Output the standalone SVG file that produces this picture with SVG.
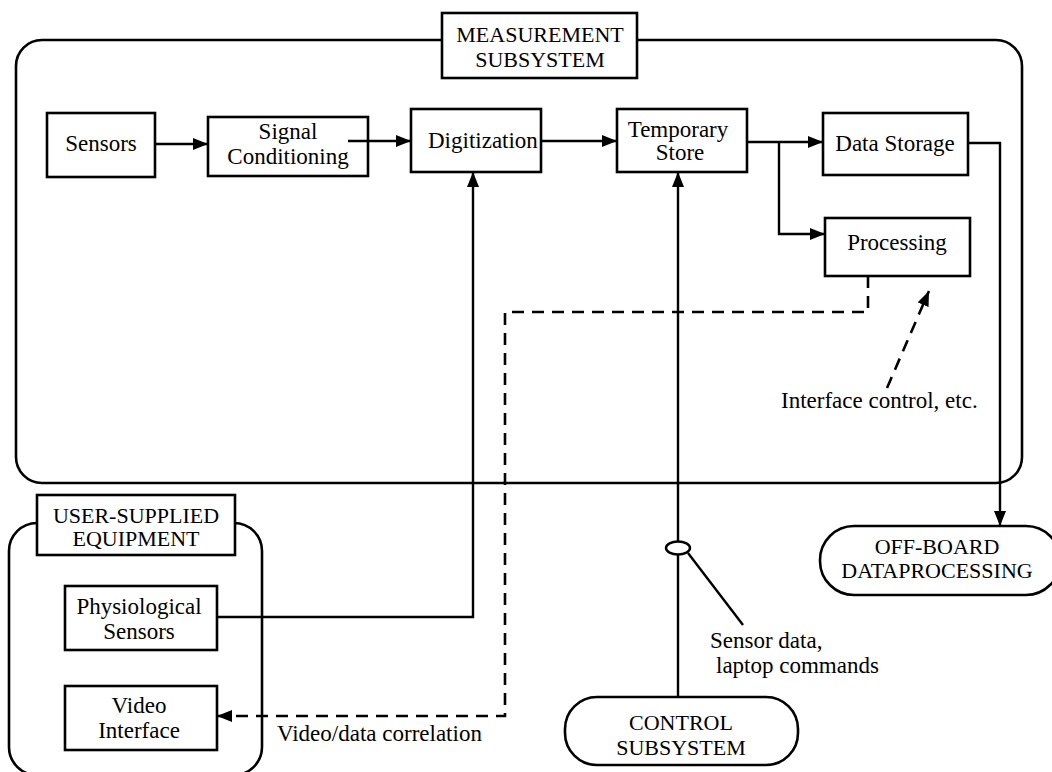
<svg xmlns="http://www.w3.org/2000/svg" width="1052" height="772" viewBox="0 0 1052 772">
<defs>
<style>
.box{fill:#fff;stroke:#000;stroke-width:2.6}
.frame{fill:none;stroke:#000;stroke-width:2.6}
.t{font-family:"Liberation Serif","Times New Roman",serif;font-size:23px;fill:#000;text-anchor:middle}
.tl{font-family:"Liberation Serif","Times New Roman",serif;font-size:23px;fill:#000}
.cap{font-family:"Liberation Serif","Times New Roman",serif;font-size:22px;fill:#000;text-anchor:middle}
.ln{fill:none;stroke:#000;stroke-width:2.4}
.dash{fill:none;stroke:#000;stroke-width:2.6;stroke-dasharray:12 8}
</style>
<marker id="ah" markerUnits="userSpaceOnUse" markerWidth="16" markerHeight="12" refX="15" refY="6" orient="auto">
<path d="M0,0 L15,6 L0,12 z" fill="#000"/>
</marker>
</defs>
<rect width="1052" height="772" fill="#fff"/>

<g id="measurement-subsystem">
<rect class="frame" x="16" y="40" width="1006" height="443" rx="26"/>
<rect class="box" x="442" y="13" width="195" height="65"/>
<text class="cap" x="540" y="42">MEASUREMENT</text>
<text class="cap" x="540" y="67">SUBSYSTEM</text>
</g>

<g id="user-supplied">
<rect class="frame" x="9" y="523" width="253" height="252" rx="28"/>
<rect class="box" x="37" y="495" width="198" height="60"/>
<text class="cap" x="136" y="523">USER-SUPPLIED</text>
<text class="cap" x="136" y="546">EQUIPMENT</text>
</g>

<g id="sensors">
<rect class="box" x="47" y="113" width="108" height="64"/>
<text class="t" x="101" y="151">Sensors</text>
</g>

<g id="signal-conditioning">
<rect class="box" x="208" y="117" width="160" height="59"/>
<text class="t" x="288" y="139">Signal</text>
<text class="t" x="288" y="164">Conditioning</text>
</g>

<g id="digitization">
<rect class="box" x="411" y="109" width="130" height="63"/>
<text class="tl" x="428" y="148">Digitization</text>
</g>

<g id="temporary-store">
<rect class="box" x="617" y="109" width="130" height="63"/>
<text class="t" x="678" y="137">Temporary</text>
<text class="t" x="680" y="160">Store</text>
</g>

<g id="data-storage">
<rect class="box" x="823" y="113" width="145" height="62"/>
<text class="t" x="895" y="151">Data Storage</text>
</g>

<g id="processing">
<rect class="box" x="825" y="218" width="145" height="58"/>
<text class="t" x="897" y="250">Processing</text>
</g>

<g id="physiological-sensors">
<rect class="box" x="65" y="586" width="152" height="64"/>
<text class="t" x="139" y="614">Physiological</text>
<text class="t" x="139" y="639">Sensors</text>
</g>

<g id="video-interface">
<rect class="box" x="65" y="686" width="152" height="64"/>
<text class="t" x="139" y="713">Video</text>
<text class="t" x="139" y="738">Interface</text>
</g>

<g id="control-subsystem">
<rect class="box" x="565" y="697" width="233" height="68" rx="32"/>
<text class="cap" x="681" y="730">CONTROL</text>
<text class="cap" x="681" y="755">SUBSYSTEM</text>
</g>

<g id="off-board">
<rect class="box" x="820" y="526" width="240" height="69" rx="34"/>
<text class="cap" x="937" y="554">OFF-BOARD</text>
<text class="cap" x="937" y="578">DATAPROCESSING</text>
</g>

<g id="connectors">
<line class="ln" x1="155" y1="144" x2="208" y2="144" marker-end="url(#ah)"/>
<line class="ln" x1="348" y1="141" x2="411" y2="141" marker-end="url(#ah)"/>
<line class="ln" x1="541" y1="141" x2="617" y2="141" marker-end="url(#ah)"/>
<line class="ln" x1="747" y1="142" x2="823" y2="142" marker-end="url(#ah)"/>
<polyline class="ln" points="779,142 779,234 825,234" marker-end="url(#ah)"/>
<polyline class="ln" points="968,143 1000,143 1000,526" marker-end="url(#ah)"/>
<polyline class="ln" points="217,617 473,617 473,172" marker-end="url(#ah)"/>
<line class="ln" x1="678" y1="697" x2="678" y2="172" marker-end="url(#ah)"/>
<polyline class="dash" points="868,276 868,312 505,312 505,716 217,716" marker-end="url(#ah)"/>
<line class="dash" x1="887" y1="388" x2="929" y2="291" marker-end="url(#ah)"/>
<ellipse cx="678" cy="548" rx="12" ry="6.5" fill="#fff" stroke="#000" stroke-width="2.4"/>
<line class="ln" x1="688" y1="553" x2="743" y2="625" stroke-width="3"/>
</g>

<g id="labels">
<text class="tl" x="781" y="408">Interface control, etc.</text>
<text class="tl" x="710" y="648">Sensor data,</text>
<text class="tl" x="716" y="673">laptop commands</text>
<text class="tl" x="277" y="741">Video/data correlation</text>
</g>
</svg>
